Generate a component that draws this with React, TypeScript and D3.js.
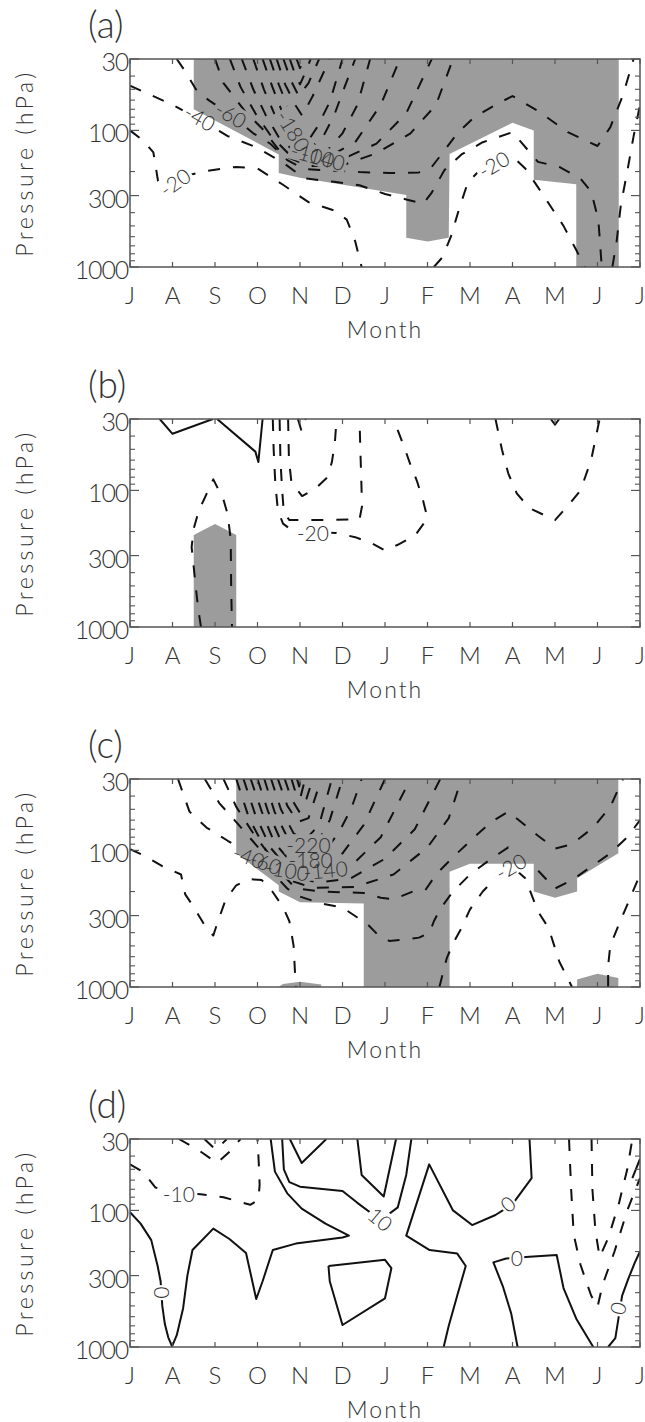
import React from 'react';
import * as d3 from 'd3';

type Pt = [number, number];
type Contour = { level: number; points: Pt[] };
type Label = { text: string; m: number; p: number; angle: number };

// ---------- axes ----------
const monthLabels = ['J', 'A', 'S', 'O', 'N', 'D', 'J', 'F', 'M', 'A', 'M', 'J', 'J'];
const pressureMajor = [30, 100, 300, 1000];
const pressureMinor = [40, 50, 60, 70, 80, 90, 200, 400, 500, 600, 700, 800, 900];
const panelNames = ['(a)', '(b)', '(c)', '(d)'];

// ---------- panel (a) ----------
const aShading: Pt[][] = [
  [[1.5, 30], [1.5, 70], [3.5, 150], [3.5, 205], [4.0, 222], [6.5, 297], [6.5, 610], [7.0, 650], [7.5, 610], [7.52, 149], [9.0, 88], [9.5, 100], [9.5, 230], [10.5, 248], [10.5, 1000], [11.5, 1000], [11.5, 30]],
];
const aContours: Contour[] = [
  { level: -260, points: [[3.92, 30], [4.0, 35], [4.1, 30]] },
  { level: -240, points: [[3.76, 30], [3.9, 40], [4.0, 46], [4.12, 38], [4.25, 30]] },
  { level: -220, points: [[3.61, 30], [3.8, 44], [3.97, 56], [4.2, 45], [4.45, 30]] },
  { level: -200, points: [[3.45, 30], [3.65, 46], [3.9, 66], [4.05, 78], [4.3, 56], [4.7, 30]] },
  { level: -180, points: [[3.29, 30], [3.5, 46], [3.75, 72], [4.0, 105], [4.15, 125], [4.4, 95], [4.7, 62], [5.0, 30]] },
  { level: -160, points: [[3.12, 30], [3.35, 48], [3.6, 76], [3.85, 106], [4.15, 138], [4.5, 118], [4.8, 78], [5.05, 48], [5.3, 30]] },
  { level: -140, points: [[2.9, 30], [3.15, 50], [3.4, 76], [3.7, 110], [4.1, 148], [4.6, 145], [5.0, 105], [5.35, 65], [5.65, 30]] },
  { level: -120, points: [[2.63, 30], [2.9, 50], [3.2, 78], [3.5, 112], [4.0, 156], [4.6, 160], [5.3, 122], [5.9, 65], [6.35, 30]] },
  { level: -100, points: [[2.35, 30], [2.6, 48], [2.95, 75], [3.3, 108], [3.8, 156], [4.4, 170], [5.1, 157], [5.8, 125], [6.5, 75], [7.1, 30]] },
  { level: -80, points: [[2.0, 30], [2.2, 45], [2.7, 72], [3.15, 100], [3.6, 152], [4.2, 182], [5.0, 180], [5.8, 147], [6.6, 105], [7.2, 65], [7.6, 30]] },
  { level: -60, points: [[1.1, 30], [1.3, 37], [1.55, 50], [1.85, 60], [2.4, 78], [2.9, 105], [3.3, 125], [3.7, 165], [4.1, 192], [4.8, 197], [5.4, 202], [6.1, 205], [6.8, 203], [7.1, 185], [7.4, 140], [7.7, 105], [8.1, 80], [8.6, 65], [9.0, 56], [9.6, 72], [10.3, 103], [11.0, 130], [11.3, 95], [11.6, 55], [11.85, 30]] },
  { level: -40, points: [[0, 47], [0.6, 57], [1.0, 65], [1.7, 85], [2.3, 110], [2.95, 132], [3.6, 172], [4.1, 224], [4.8, 238], [5.4, 252], [6.0, 292], [6.5, 320], [6.9, 345], [7.1, 285], [7.4, 195], [7.8, 150], [8.3, 122], [9.0, 103], [9.6, 170], [10.1, 185], [10.6, 225], [10.85, 280], [11.02, 450], [11.1, 1000]] },
  { level: -40, points: [[11.35, 1000], [11.45, 650], [11.55, 350], [11.7, 200], [11.85, 110], [12, 65]] },
  { level: -20, points: [[0, 100], [0.3, 118], [0.55, 145], [0.7, 280], [1.0, 250], [1.4, 212], [1.8, 198], [2.5, 185], [3.0, 190], [3.6, 250], [4.2, 335], [4.8, 385], [5.1, 450], [5.3, 650], [5.45, 1000]] },
  { level: -20, points: [[7.15, 1000], [7.35, 850], [7.55, 600], [7.75, 370], [7.95, 240], [8.2, 200], [8.6, 176], [9.05, 160], [9.3, 190], [9.7, 290], [10.2, 500], [10.5, 750], [10.7, 1000]] },
];
const aLabels: Label[] = [
  { text: '-20', m: 1.05, p: 238, angle: -35 },
  { text: '-40', m: 1.65, p: 80, angle: 30 },
  { text: '-60', m: 2.38, p: 76, angle: 30 },
  { text: '-180', m: 3.85, p: 100, angle: 58 },
  { text: '-100', m: 4.3, p: 150, angle: 15 },
  { text: '-140', m: 4.55, p: 158, angle: 15 },
  { text: '-20', m: 8.55, p: 176, angle: -30 },
];

// ---------- panel (b) ----------
const bShading: Pt[][] = [
  [[1.5, 1000], [1.5, 212], [2.0, 176], [2.5, 212], [2.5, 1000]],
];
const bContours: Contour[] = [
  { level: 20, points: [[0.7, 30], [1.0, 38.5], [1.95, 30]] },
  { level: 20, points: [[2.05, 30], [2.95, 52], [3.02, 62], [3.12, 30]] },
  { level: 20, points: [[9.9, 30], [10.0, 33], [10.1, 30]] },
  { level: -80, points: [[3.95, 30], [4.04, 37], [4.13, 30]] },
  { level: -60, points: [[3.72, 30], [3.74, 60], [3.8, 88], [4.05, 110], [4.35, 98], [4.65, 80], [4.75, 62], [4.82, 45], [4.86, 30]] },
  { level: -40, points: [[3.52, 30], [3.54, 60], [3.58, 100], [3.62, 145], [3.75, 165], [4.5, 165], [5.4, 163], [5.46, 130], [5.44, 80], [5.42, 50], [5.4, 30]] },
  { level: -20, points: [[3.36, 30], [3.38, 50], [3.42, 90], [3.48, 140], [3.6, 175], [3.85, 200], [4.85, 205], [5.3, 220], [5.7, 245], [6.0, 275], [6.3, 250], [6.7, 215], [7.0, 160], [6.9, 120], [6.75, 85], [6.6, 65], [6.45, 48], [6.2, 30]] },
  { level: -20, points: [[8.6, 30], [8.75, 50], [8.9, 75], [9.1, 105], [9.4, 135], [10.0, 165], [10.3, 130], [10.6, 100], [10.85, 60], [11.05, 30]] },
  { level: -20, points: [[1.67, 1000], [1.6, 720], [1.52, 420], [1.45, 260], [1.5, 190], [1.62, 140], [1.75, 115], [1.96, 83], [2.2, 117], [2.3, 150], [2.37, 230], [2.38, 500], [2.4, 1000]] },
];
const bLabels: Label[] = [
  { text: '-20', m: 4.3, p: 205, angle: 0 },
];

// ---------- panel (c) ----------
const cShading: Pt[][] = [
  [[2.5, 30], [2.5, 105], [3.5, 180], [3.5, 200], [4.0, 240], [5.5, 245], [5.5, 1000], [7.52, 1000], [7.52, 143], [8.0, 125], [9.5, 125], [9.5, 200], [10.0, 222], [10.52, 200], [10.52, 160], [11.49, 105], [11.49, 30]],
  [[3.5, 1000], [3.6, 950], [4.0, 915], [4.5, 960], [4.5, 1000]],
  [[10.52, 1000], [10.52, 880], [11.0, 800], [11.49, 860], [11.49, 1000]],
];
const cContours: Contour[] = [
  { level: -280, points: [[3.93, 30], [3.98, 34], [4.02, 30]] },
  { level: -260, points: [[3.8, 30], [3.9, 38], [4.0, 42], [4.12, 30]] },
  { level: -240, points: [[3.64, 30], [3.8, 42], [3.98, 52], [4.15, 42], [4.3, 30]] },
  { level: -220, points: [[3.48, 30], [3.7, 47], [3.95, 62], [4.2, 58], [4.5, 30]] },
  { level: -200, points: [[3.32, 30], [3.55, 50], [3.85, 75], [4.1, 85], [4.45, 65], [4.75, 30]] },
  { level: -180, points: [[3.16, 30], [3.4, 52], [3.7, 80], [4.0, 100], [4.35, 95], [4.7, 60], [5.0, 30]] },
  { level: -160, points: [[3.0, 30], [3.25, 52], [3.55, 85], [3.95, 115], [4.5, 110], [4.9, 75], [5.2, 50], [5.45, 30]] },
  { level: -140, points: [[2.84, 30], [3.1, 52], [3.4, 88], [3.85, 128], [4.5, 135], [5.0, 105], [5.5, 65], [6.0, 30]] },
  { level: -120, points: [[2.67, 30], [2.95, 55], [3.3, 95], [3.75, 140], [4.5, 155], [5.2, 130], [5.9, 80], [6.6, 30]] },
  { level: -100, points: [[2.5, 30], [2.8, 58], [3.2, 100], [3.7, 150], [4.4, 172], [5.2, 160], [6.0, 115], [6.7, 70], [7.3, 30]] },
  { level: -80, points: [[2.2, 30], [2.5, 48], [2.9, 75], [3.3, 110], [3.75, 165], [4.3, 188], [5.3, 185], [6.2, 150], [7.0, 95], [7.5, 58], [7.8, 30]] },
  { level: -60, points: [[1.76, 30], [2.1, 45], [2.5, 62], [2.95, 90], [3.5, 140], [3.9, 190], [4.5, 200], [5.5, 205], [5.9, 222], [6.2, 228], [6.65, 200], [6.95, 195], [7.2, 150], [7.6, 112], [8.1, 80], [8.5, 62], [8.9, 52], [9.6, 78], [10.0, 97], [10.4, 90], [10.9, 68], [11.3, 48], [11.6, 30]] },
  { level: -40, points: [[1.13, 30], [1.4, 52], [1.8, 68], [2.3, 85], [2.8, 105], [3.3, 140], [3.7, 190], [3.95, 215], [4.5, 245], [5.0, 262], [5.35, 310], [5.6, 350], [5.85, 420], [6.1, 460], [6.35, 452], [6.8, 435], [7.05, 400], [7.15, 330], [7.3, 268], [7.6, 200], [8.0, 150], [8.5, 115], [8.9, 95], [9.5, 130], [10.0, 190], [10.4, 165], [10.8, 135], [11.3, 105], [11.7, 80], [12, 60]] },
  { level: -20, points: [[0, 98], [0.3, 108], [0.75, 130], [1.2, 150], [1.3, 210], [1.5, 260], [1.75, 350], [1.96, 420], [2.07, 330], [2.25, 230], [2.5, 180], [2.8, 162], [3.1, 165], [3.35, 200], [3.6, 260], [3.75, 330], [3.85, 500], [3.9, 1000]] },
  { level: -20, points: [[7.28, 1000], [7.45, 620], [7.6, 480], [7.8, 370], [8.0, 270], [8.3, 200], [8.6, 160], [9.0, 132], [9.3, 160], [9.6, 280], [9.85, 370], [10.1, 650], [10.4, 1000]] },
  { level: -20, points: [[11.25, 1000], [11.25, 700], [11.3, 500], [11.5, 350], [11.75, 230], [12, 150]] },
];
const cLabels: Label[] = [
  { text: '-220', m: 4.2, p: 90, angle: 0 },
  { text: '-40', m: 2.8, p: 110, angle: 20 },
  { text: '-60', m: 3.2, p: 122, angle: 20 },
  { text: '-100', m: 3.7, p: 138, angle: 10 },
  { text: '-180', m: 4.25, p: 116, angle: 0 },
  { text: '-140', m: 4.6, p: 138, angle: -5 },
  { text: '-20', m: 8.95, p: 130, angle: -30 },
];

// ---------- panel (d) ----------
const dShading: Pt[][] = [];
const dContours: Contour[] = [
  { level: 0, points: [[0, 103], [0.25, 125], [0.5, 165], [0.65, 255], [0.72, 330], [0.76, 500], [0.82, 680], [0.9, 850], [0.99, 990], [1.1, 820], [1.25, 520], [1.35, 300], [1.47, 195], [1.96, 136], [2.34, 162], [2.73, 205], [2.97, 445], [3.12, 330], [3.36, 195], [3.9, 175], [5.0, 158], [5.15, 153], [4.6, 125], [4.04, 97], [3.7, 75], [3.41, 52], [3.31, 30]] },
  { level: 10, points: [[3.58, 30], [3.62, 50], [3.75, 62], [4.0, 67], [5.0, 72], [5.35, 88], [5.9, 118], [6.3, 95], [6.5, 55], [6.62, 30]] },
  { level: 20, points: [[3.76, 30], [4.04, 45], [4.62, 30]] },
  { level: 20, points: [[5.35, 30], [5.45, 55], [5.97, 79], [6.26, 30]] },
  { level: 0, points: [[7.38, 1000], [7.5, 700], [7.7, 420], [7.9, 255], [7.7, 207], [7.05, 195], [6.5, 153], [7.04, 46], [7.6, 100], [8.05, 128], [8.6, 108], [9.0, 90], [9.45, 58], [9.4, 30]] },
  { level: 0, points: [[9.12, 1000], [8.97, 570], [8.78, 365], [8.55, 240], [8.85, 225], [9.4, 218], [10.04, 212], [10.2, 370], [10.5, 620], [10.9, 1000]] },
  { level: 10, points: [[4.67, 255], [6.0, 230], [6.15, 265], [6.0, 440], [5.0, 690], [4.7, 330], [4.67, 255]] },
  { level: 0, points: [[11.25, 1000], [11.42, 860], [11.5, 600], [11.58, 420], [11.72, 320], [11.88, 240], [12, 200]] },
  { level: 0, points: [[11.82, 58], [12, 42]] },
  { level: -10, points: [[0, 46], [0.3, 52], [0.6, 68], [1.0, 74], [1.66, 76], [2.2, 80], [2.83, 91], [3.02, 84], [3.05, 65], [3.03, 45], [3.0, 30]] },
  { level: -20, points: [[1.15, 30], [1.6, 36], [2.05, 45], [2.35, 37], [2.6, 30]] },
  { level: -30, points: [[1.75, 30], [2.02, 36], [2.28, 30]] },
  { level: -10, points: [[10.33, 30], [10.38, 70], [10.44, 150], [10.6, 250], [10.85, 420], [11.0, 510], [11.12, 350], [11.4, 200], [11.7, 100], [12, 58]] },
  { level: -20, points: [[10.86, 30], [10.88, 70], [10.95, 140], [11.05, 220], [11.25, 160], [11.5, 90], [11.7, 50], [11.82, 30]] },
];
const dLabels: Label[] = [
  { text: '-10', m: 1.15, p: 75, angle: 0 },
  { text: '0', m: 0.76, p: 400, angle: 90 },
  { text: '10', m: 5.9, p: 115, angle: 40 },
  { text: '0', m: 8.88, p: 89, angle: -40 },
  { text: '0', m: 9.1, p: 220, angle: 0 },
  { text: '0', m: 11.47, p: 520, angle: -75 },
];

// ---------- layout ----------
const W = 645;
const H = 1422;
const X0 = 130;
const X1 = 640;
const PH = 208;
const panelTops = [59, 419, 779, 1139];
const FONT = "Lato, 'Liberation Sans', Arial, sans-serif";
const TXT = '#333';
const AXIS = '#555';

const panelData = [
  { shading: aShading, contours: aContours, labels: aLabels },
  { shading: bShading, contours: bContours, labels: bLabels },
  { shading: cShading, contours: cContours, labels: cLabels },
  { shading: dShading, contours: dContours, labels: dLabels },
];

function Panel({ index }: { index: number }) {
  const { shading, contours, labels } = panelData[index];
  const top = panelTops[index];
  const bottom = top + PH;
  const x = d3.scaleLinear().domain([0, 12]).range([X0, X1]);
  const y = d3.scaleLog().domain([30, 1000]).range([top, bottom]);
  const line = d3.line<Pt>().x((d) => x(d[0])).y((d) => y(d[1]));
  const clipId = `clip${index}`;
  const maskId = `mask${index}`;
  return (
    <g>
      <defs>
        <clipPath id={clipId}>
          <rect x={X0} y={top} width={X1 - X0} height={PH} />
        </clipPath>
        <mask id={maskId} maskUnits="userSpaceOnUse" x={0} y={0} width={W} height={H}>
          <rect x={0} y={0} width={W} height={H} fill="white" />
          {labels.map((l, i) => {
            const w = l.text.length * 11 + 4;
            return (
              <rect
                key={i}
                x={-w / 2}
                y={-10}
                width={w}
                height={20}
                fill="black"
                transform={`translate(${x(l.m)},${y(l.p)}) rotate(${l.angle})`}
              />
            );
          })}
        </mask>
      </defs>
      <g clipPath={`url(#${clipId})`}>
        {shading.map((poly, i) => (
          <path key={i} d={(line(poly) || '') + 'Z'} fill="#9c9c9c" stroke="none" />
        ))}
        <g mask={`url(#${maskId})`}>
          {contours.map((c, i) => (
            <path
              key={i}
              d={line(c.points) || ''}
              fill="none"
              stroke="#111"
              strokeWidth={2}
              strokeDasharray={c.level < 0 ? '12,13' : undefined}
              strokeLinejoin="round"
            />
          ))}
        </g>
        {labels.map((l, i) => (
          <text
            key={i}
            transform={`translate(${x(l.m)},${y(l.p)}) rotate(${l.angle})`}
            textAnchor="middle"
            dominantBaseline="central"
            fontSize={21}
            fontFamily={FONT}
            fontWeight={300}
            fill={TXT}
          >
            {l.text}
          </text>
        ))}
      </g>
      {/* frame */}
      <rect x={X0} y={top} width={X1 - X0} height={PH} fill="none" stroke={AXIS} strokeWidth={1.5} />
      {/* x ticks */}
      {monthLabels.map((_, i) => (
        <g key={i}>
          <line x1={x(i)} x2={x(i)} y1={bottom} y2={bottom - 5} stroke={AXIS} strokeWidth={1.2} />
          <line x1={x(i)} x2={x(i)} y1={top} y2={top + 5} stroke={AXIS} strokeWidth={1.2} />
        </g>
      ))}
      {/* y ticks */}
      {pressureMajor.map((p) => (
        <g key={p}>
          <line x1={X0} x2={X0 + 9} y1={y(p)} y2={y(p)} stroke={AXIS} strokeWidth={1.2} />
          <line x1={X1} x2={X1 - 9} y1={y(p)} y2={y(p)} stroke={AXIS} strokeWidth={1.2} />
        </g>
      ))}
      {pressureMinor.map((p) => (
        <g key={p}>
          <line x1={X0} x2={X0 + 5} y1={y(p)} y2={y(p)} stroke={AXIS} strokeWidth={1.1} />
          <line x1={X1} x2={X1 - 5} y1={y(p)} y2={y(p)} stroke={AXIS} strokeWidth={1.1} />
        </g>
      ))}
      {/* y tick labels */}
      {pressureMajor.map((p) => (
        <text
          key={p}
          x={X0 - 2}
          y={y(p) + 2}
          textAnchor="end"
          dominantBaseline="central"
          fontSize={25}
          letterSpacing={-1.2}
          fontFamily={FONT}
          fontWeight={300}
          fill={TXT}
        >
          {p}
        </text>
      ))}
      {/* x tick labels */}
      {monthLabels.map((m, i) => (
        <text
          key={i}
          x={x(i)}
          y={bottom + 37}
          textAnchor="middle"
          fontSize={24}
          fontFamily={FONT}
          fontWeight={300}
          fill={TXT}
        >
          {m}
        </text>
      ))}
      <text
        x={(X0 + X1) / 2}
        y={bottom + 71}
        textAnchor="middle"
        fontSize={23}
        letterSpacing={2}
        fontFamily={FONT}
        fontWeight={300}
        fill={TXT}
      >
        Month
      </text>
      <text
        transform={`translate(24,${(top + bottom) / 2}) rotate(-90)`}
        textAnchor="middle"
        dominantBaseline="central"
        fontSize={23}
        letterSpacing={3.5}
        fontFamily={FONT}
        fontWeight={300}
        fill={TXT}
      >
        Pressure (hPa)
      </text>
      <text
        x={88}
        y={top - 21}
        fontSize={37}
        fontFamily={FONT}
        fontWeight={300}
        fill={TXT}
      >
        {panelNames[index]}
      </text>
    </g>
  );
}

export default function App() {
  return (
    <svg
      width={W}
      height={H}
      viewBox={`0 0 ${W} ${H}`}
      style={{ position: 'absolute', left: 0, top: 0, background: '#fff' }}
    >
      <rect x={0} y={0} width={W} height={H} fill="#fff" />
      {[0, 1, 2, 3].map((i) => (
        <Panel key={i} index={i} />
      ))}
    </svg>
  );
}
